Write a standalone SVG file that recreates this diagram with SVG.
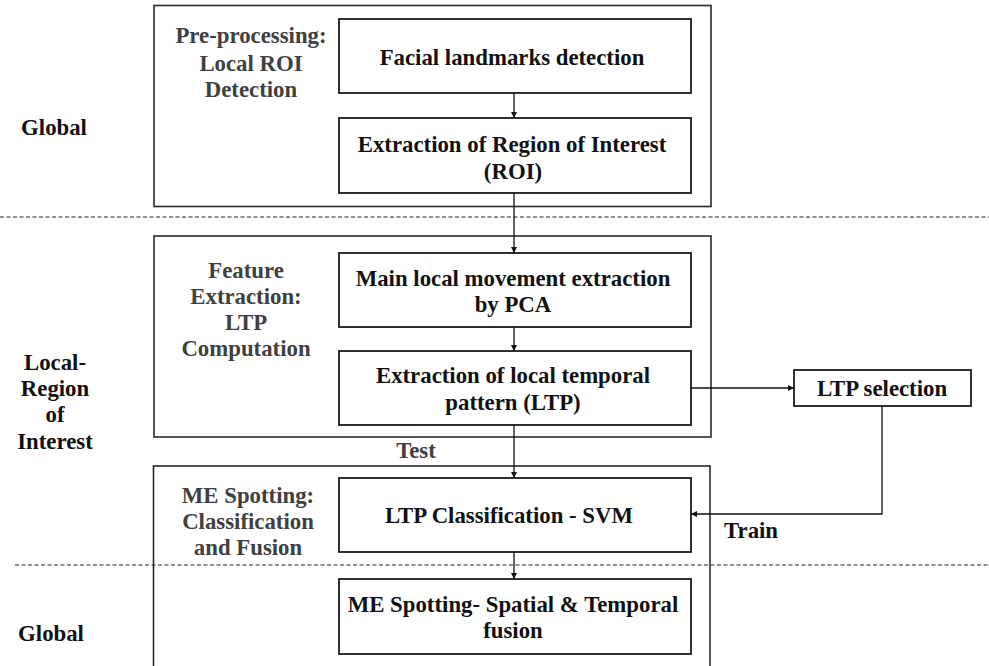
<svg xmlns="http://www.w3.org/2000/svg" width="989" height="666" viewBox="0 0 989 666">
<style>
text{font-family:'Liberation Serif','Tinos','Times New Roman','DejaVu Serif',serif;font-weight:700;font-size:22.8px;text-anchor:middle}
.step{fill:#404040}
.lbl{fill:#111}
.box{fill:#fff;stroke:#1a1a1a;stroke-width:1.8}
.outer{fill:none;stroke:#2a2a2a;stroke-width:1.6}
.dash{stroke:#222;stroke-width:1.2;stroke-dasharray:4 2.5;fill:none}
.con{stroke:#111;stroke-width:1.3;fill:none}
</style>
<defs>
<marker id="ah" viewBox="0 0 6 6" refX="6" refY="3" markerWidth="6" markerHeight="6" markerUnits="userSpaceOnUse" orient="auto">
<path d="M0,0 L6,3 L0,6 z" fill="#111"/>
</marker>
</defs>
<rect width="989" height="666" fill="#fff"/>

<g id="separators">
<line class="dash" x1="0" y1="217" x2="989" y2="217"/>
<line class="dash" x1="15" y1="565" x2="989" y2="565"/>
</g>

<g id="level-labels">
<text class="lbl" x="54" y="135">Global</text>
<text class="lbl" x="55" y="370">Local-</text>
<text class="lbl" x="55" y="396">Region</text>
<text class="lbl" x="55" y="422">of</text>
<text class="lbl" x="55" y="449">Interest</text>
<text class="lbl" x="51" y="641">Global</text>
</g>

<g id="stage-preprocessing">
<rect class="outer" x="154" y="5.5" width="557" height="201"/>
<text class="step" x="251" y="43">Pre-processing:</text>
<text class="step" x="251" y="71">Local ROI</text>
<text class="step" x="251" y="97">Detection</text>
</g>

<g id="stage-feature">
<rect class="outer" x="154" y="236" width="557" height="201"/>
<text class="step" x="246" y="278">Feature</text>
<text class="step" x="246" y="304">Extraction:</text>
<text class="step" x="246" y="330">LTP</text>
<text class="step" x="246" y="356">Computation</text>
</g>

<g id="stage-spotting">
<rect class="outer" x="153.5" y="466" width="556.5" height="215"/>
<text class="step" x="248" y="503">ME Spotting:</text>
<text class="step" x="248" y="529">Classification</text>
<text class="step" x="248" y="555">and Fusion</text>
</g>

<g id="node-landmarks">
<rect class="box" x="339" y="19" width="352" height="74"/>
<text class="lbl" x="512" y="65">Facial landmarks detection</text>
</g>

<g id="node-roi">
<rect class="box" x="339" y="118" width="352" height="75"/>
<text class="lbl" x="512" y="152">Extraction of Region of Interest</text>
<text class="lbl" x="513" y="179">(ROI)</text>
</g>

<g id="node-pca">
<rect class="box" x="339" y="253" width="352" height="74"/>
<text class="lbl" x="513" y="286">Main local movement extraction</text>
<text class="lbl" x="513" y="312">by PCA</text>
</g>

<g id="node-ltp">
<rect class="box" x="339" y="351" width="352" height="74"/>
<text class="lbl" x="513" y="383">Extraction of local temporal</text>
<text class="lbl" x="513" y="410">pattern (LTP)</text>
</g>

<g id="node-ltp-selection">
<rect class="box" x="794" y="370" width="177" height="36"/>
<text class="lbl" x="882" y="396">LTP selection</text>
</g>

<g id="node-svm">
<rect class="box" x="339" y="478" width="352" height="74"/>
<text class="lbl" x="509" y="523">LTP Classification - SVM</text>
</g>

<g id="node-fusion">
<rect class="box" x="339" y="579" width="352" height="75"/>
<text class="lbl" x="513" y="612">ME Spotting- Spatial &amp; Temporal</text>
<text class="lbl" x="513" y="638">fusion</text>
</g>

<g id="connectors">
<line class="con" x1="514" y1="93" x2="514" y2="118" marker-end="url(#ah)"/>
<line class="con" x1="514" y1="193" x2="514" y2="253" marker-end="url(#ah)"/>
<line class="con" x1="514" y1="327" x2="514" y2="351" marker-end="url(#ah)"/>
<line class="con" x1="514" y1="425" x2="514" y2="478" marker-end="url(#ah)"/>
<line class="con" x1="514" y1="552" x2="514" y2="579" marker-end="url(#ah)"/>
<line class="con" x1="691" y1="388" x2="794" y2="388" marker-end="url(#ah)"/>
<polyline class="con" points="882,406 882,514 691,514" marker-end="url(#ah)"/>
<text class="step" x="416" y="458">Test</text>
<text class="lbl" x="724" y="538" style="text-anchor:start">Train</text>
</g>
</svg>
